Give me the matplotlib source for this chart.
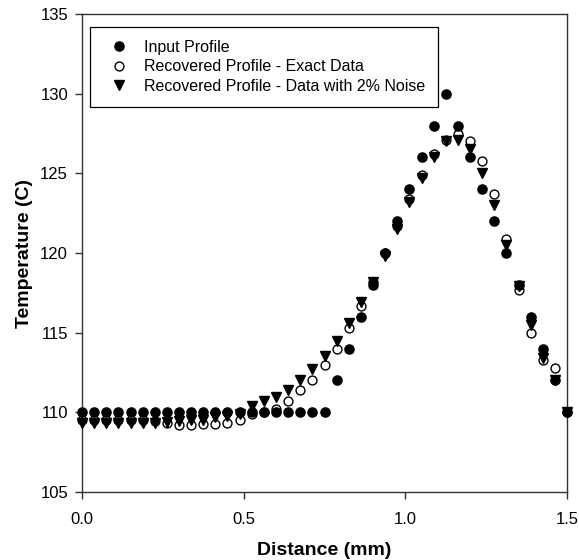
import matplotlib
matplotlib.use('Agg')
import matplotlib.pyplot as plt
import numpy as np

plt.rcParams['font.family'] = ['Liberation Sans', 'DejaVu Sans']

# distance grid (mm), 41 nodes
distance = np.linspace(0.0, 1.5, 41)

# input temperature profile (C)
input_profile = [110] * 21 + [112, 114, 116, 118, 120, 122, 124, 126, 128, 130,
                              128, 126, 124, 122, 120, 118, 116, 114, 112, 110]

# recovered profile from exact data
exact_profile = [109.55, 109.55, 109.55, 109.55, 109.55, 109.55, 109.45, 109.35,
                 109.2, 109.2, 109.25, 109.25, 109.35, 109.5, 109.9, 110.05,
                 110.2, 110.7, 111.4, 112.0, 112.95, 114.0, 115.3, 116.7,
                 118.2, 120.0, 121.7, 123.4, 124.9, 126.2, 127.1, 127.5,
                 127.0, 125.8, 123.7, 120.9, 117.7, 115.0, 113.3, 112.8, 110.0]

# recovered profile from data with 2% noise
noise_profile = [109.33, 109.33, 109.33, 109.33, 109.33, 109.33, 109.3, 109.4,
                 109.45, 109.5, 109.55, 109.7, 109.75, 109.9, 110.4, 110.7,
                 110.95, 111.4, 112.0, 112.7, 113.55, 114.45, 115.6, 116.9,
                 118.2, 119.8, 121.5, 123.2, 124.7, 126.0, 127.0, 127.1,
                 126.5, 125.0, 123.0, 120.5, 117.9, 115.5, 113.4, 112.0, 110.0]

fig = plt.figure(figsize=(5.79, 5.60), dpi=100)
ax = fig.add_axes([82 / 579, 1 - 492 / 560, (567 - 82) / 579, (492 - 14) / 560])

ax.plot(distance, input_profile, 'o', color='black', markersize=6.6,
        linestyle='none', clip_on=False, zorder=3, label='Input Profile')
ax.plot(distance, exact_profile, 'o', markerfacecolor='white', markeredgecolor='black',
        markeredgewidth=1.0, markersize=6.4, linestyle='none', clip_on=False,
        zorder=2, label='Recovered Profile - Exact Data')
ax.plot(distance, noise_profile, 'v', color='black', markersize=7.0,
        linestyle='none', clip_on=False, zorder=4,
        label='Recovered Profile - Data with 2% Noise')

ax.set_xlim(0.0, 1.5)
ax.set_ylim(105, 135)
ax.set_xticks([0.0, 0.5, 1.0, 1.5])
ax.set_xticklabels(['0.0', '0.5', '1.0', '1.5'])
ax.set_yticks(np.arange(105, 136, 5))

ax.tick_params(direction='out', length=5, width=1, labelsize=12,
               color='#333333')
ax.tick_params(axis='x', pad=9.5)
ax.tick_params(axis='y', pad=5)
for s in ax.spines.values():
    s.set_linewidth(1.0)
    s.set_color('#333333')

ax.set_xlabel('Distance (mm)', fontsize=14, fontweight='bold', labelpad=10.5)
ax.set_ylabel('Temperature (C)', fontsize=14, fontweight='bold', labelpad=5)

leg = ax.legend(loc='upper left', bbox_to_anchor=(90 / 579, 1 - 27 / 560),
                bbox_transform=fig.transFigure, borderaxespad=0,
                fontsize=11.5, frameon=True, fancybox=False, edgecolor='black',
                framealpha=1, borderpad=0.8, labelspacing=0.28,
                handlelength=2.0, handletextpad=0.6, numpoints=1)
leg.get_frame().set_linewidth(0.9)

plt.savefig('out.png', dpi=100)
